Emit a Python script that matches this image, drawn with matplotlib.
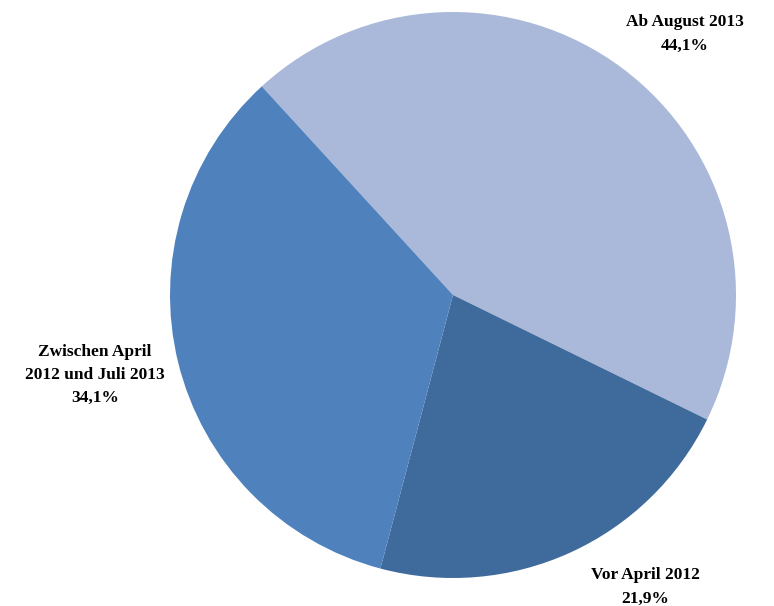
import matplotlib.pyplot as plt

# share of respondents by period
labels = ["Ab August 2013", "Vor April 2012", "Zwischen April\n2012 und Juli 2013"]
shares = [44.1, 21.9, 34.1]
colors = ["#aab9d9", "#3f6a9c", "#4f81bd"]

W, H = 774, 606
fig = plt.figure(figsize=(W / 100, H / 100), dpi=100)
cx, cy, r = 453, 295, 283
ax = fig.add_axes([(cx - r) / W, (H - cy - r) / H, 2 * r / W, 2 * r / H])
ax.pie(shares, colors=colors, startangle=132.5, counterclock=False,
       wedgeprops=dict(linewidth=0))
ax.set_xlim(-1, 1)
ax.set_ylim(-1, 1)
ax.set_aspect("equal")
ax.axis("off")

font = dict(family="Liberation Serif", weight="bold", size=12.5,
            ha="center", va="center", linespacing=1.6)

# label anchors in pixels (centre of text block)
positions = [(685, 34), (645, 587), (95, 375)]
for lab, val, (px, py) in zip(labels, shares, positions):
    txt = f"{lab}\n{val:.1f}%".replace(".", ",")
    fig.text(px / W, 1 - py / H, txt, **font)

fig.savefig("out.png", dpi=100)
